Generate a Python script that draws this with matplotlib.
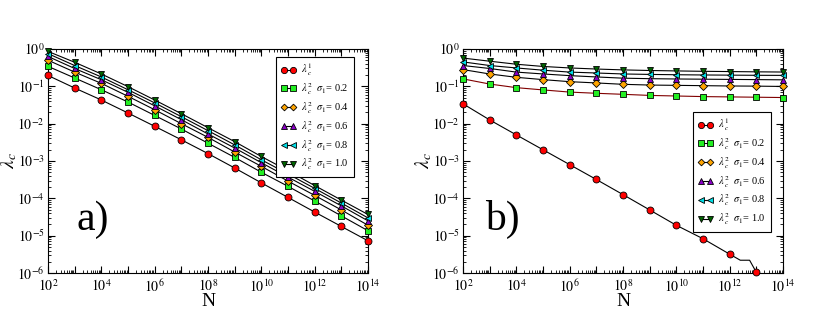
import numpy as np
import matplotlib
matplotlib.use("Agg")
import matplotlib.pyplot as plt
from matplotlib.ticker import LogLocator, FuncFormatter, NullFormatter
from matplotlib.lines import Line2D

plt.rcParams["font.family"] = ["Liberation Serif", "DejaVu Serif"]
plt.rcParams["mathtext.fontset"] = "stix"

# exponents of N for the markers
exps = np.arange(2, 15)
N = 10.0 ** exps

# panel a)
a_l1 = [0.195, 0.090, 0.043, 0.0193, 0.0085, 0.0037, 0.00158, 6.5e-4, 2.6e-4, 1.06e-4, 4.3e-5, 1.77e-5, 7.3e-6]
a_s02 = [0.342, 0.167, 0.081, 0.038, 0.0166, 0.0072, 0.0030, 0.00125, 5.0e-4, 2.1e-4, 8.5e-5, 3.4e-5, 1.36e-5]
a_s04 = [0.50, 0.24, 0.12, 0.054, 0.0236, 0.0100, 0.0043, 0.00174, 7.2e-4, 2.9e-4, 1.2e-4, 4.9e-5, 1.9e-5]
a_s06 = [0.63, 0.30, 0.15, 0.069, 0.030, 0.0128, 0.0053, 0.00223, 9.0e-4, 3.7e-4, 1.54e-4, 6.3e-5, 2.5e-5]
a_s08 = [0.75, 0.36, 0.178, 0.081, 0.036, 0.0154, 0.0065, 0.0027, 0.00108, 4.5e-4, 1.85e-4, 7.5e-5, 3.0e-5]
a_s10 = [0.86, 0.44, 0.214, 0.098, 0.043, 0.0185, 0.0078, 0.0033, 0.00132, 5.5e-4, 2.2e-4, 9.0e-5, 3.7e-5]

# panel b)
b_l1 = [0.034, 0.0126, 0.0050, 0.0020, 8.0e-4, 3.2e-4, 1.26e-4, 4.9e-5, 1.9e-5, 8.3e-6, 3.2e-6, 1.05e-6]
b_l1_line_x = [2, 3, 4, 5, 6, 7, 8, 9, 10, 11, 12, 12.4, 12.75, 13]
b_l1_line_y = [0.034, 0.0126, 0.0050, 0.0020, 8.0e-4, 3.2e-4, 1.26e-4, 4.9e-5, 1.9e-5, 8.3e-6, 3.2e-6, 2.2e-6, 2.2e-6, 1.05e-6]
b_s02 = [0.158, 0.115, 0.092, 0.080, 0.070, 0.065, 0.061, 0.057, 0.055, 0.053, 0.052, 0.051, 0.050]
b_s04 = [0.28, 0.214, 0.174, 0.151, 0.133, 0.123, 0.113, 0.108, 0.106, 0.104, 0.102, 0.101, 0.099]
b_s06 = [0.36, 0.30, 0.24, 0.214, 0.193, 0.178, 0.165, 0.160, 0.157, 0.155, 0.153, 0.151, 0.149]
b_s08 = [0.45, 0.36, 0.31, 0.27, 0.24, 0.227, 0.214, 0.208, 0.204, 0.201, 0.199, 0.197, 0.196]
b_s10 = [0.57, 0.47, 0.39, 0.34, 0.31, 0.29, 0.275, 0.265, 0.258, 0.252, 0.248, 0.244, 0.241]

labels = [r"$\lambda^{1}_{\ c}$",
          r"$\lambda^{2}_{\ c}\ \ \sigma_{1}$= 0.2",
          r"$\lambda^{2}_{\ c}\ \ \sigma_{1}$= 0.4",
          r"$\lambda^{2}_{\ c}\ \ \sigma_{1}$= 0.6",
          r"$\lambda^{2}_{\ c}\ \ \sigma_{1}$= 0.8",
          r"$\lambda^{2}_{\ c}\ \ \sigma_{1}$= 1.0"]
colors = ["#ff0000", "#22ee22", "#ffa500", "#8a00c8", "#00e0e8", "#006400"]
markers = ["o", "s", "D", "^", "<", "v"]
msizes = [5, 4.8, 3.8, 5, 5, 5]

fig = plt.figure(figsize=(8.3, 3.21), dpi=100)
ax_a = fig.add_axes([0.0578, 0.1495, 0.3855, 0.698])
ax_b = fig.add_axes([0.5578, 0.1495, 0.3855, 0.698])


def style_axis(ax):
    ax.set_xscale("log")
    ax.set_yscale("log")
    ax.set_xlim(1e2, 1e14)
    ax.set_ylim(1e-6, 1e0)
    ax.xaxis.set_major_locator(LogLocator(base=10, numticks=20))
    ax.xaxis.set_major_formatter(FuncFormatter(
        lambda v, p: r"$10^{%d}$" % round(np.log10(v)) if round(np.log10(v)) % 2 == 0 else ""))
    ax.xaxis.set_minor_locator(LogLocator(base=10, subs=np.arange(2, 10), numticks=100))
    ax.xaxis.set_minor_formatter(NullFormatter())
    ax.yaxis.set_major_locator(LogLocator(base=10, numticks=20))
    ax.yaxis.set_major_formatter(FuncFormatter(lambda v, p: r"$10^{%d}$" % round(np.log10(v))))
    ax.yaxis.set_minor_locator(LogLocator(base=10, subs=np.arange(2, 10), numticks=100))
    ax.yaxis.set_minor_formatter(NullFormatter())
    ax.tick_params(which="both", direction="in", top=True, right=True, labelsize=10)
    ax.tick_params(which="major", length=5, width=0.8, pad=2.5)
    ax.tick_params(axis="x", which="major", pad=4)
    ax.tick_params(which="minor", length=2.5, width=0.6)
    ax.set_xlabel("N", fontsize=14)
    ax.xaxis.set_label_coords(0.5, -0.09)
    ax.set_ylabel(r"$\lambda_c$", fontsize=14)
    ax.yaxis.set_label_coords(-0.09, 0.5)


def make_legend(ax, anchor):
    handles = [Line2D([0], [0], color="k", lw=0.8, marker=m, markersize=s * 0.9,
                      markerfacecolor=c, markeredgecolor="k", markeredgewidth=0.6)
               for c, m, s in zip(colors, markers, msizes)]
    leg = ax.legend(handles, labels, loc="upper right", bbox_to_anchor=anchor,
                    numpoints=2, fontsize=7.5, fancybox=False, edgecolor="k",
                    framealpha=1, handlelength=1.5, handletextpad=0.5,
                    labelspacing=0.28, borderpad=0.45, borderaxespad=0)
    leg.get_frame().set_linewidth(0.8)


# panel a
style_axis(ax_a)
for y, c, m, s in zip([a_l1, a_s02, a_s04, a_s06, a_s08, a_s10], colors, markers, msizes):
    ax_a.plot(N, y, color="k", lw=0.8, marker=m, markersize=s, markerfacecolor=c,
              markeredgecolor="k", markeredgewidth=0.6, clip_on=False, zorder=3)
make_legend(ax_a, (0.956, 0.964))
ax_a.text(0.09, 0.19, "a)", transform=ax_a.transAxes, fontsize=30)

# panel b
style_axis(ax_b)
ax_b.plot(10.0 ** np.array(b_l1_line_x), b_l1_line_y, color="k", lw=0.8, zorder=2)
ax_b.plot(N[:len(b_l1)], b_l1, ls="none", marker=markers[0], markersize=msizes[0],
          markerfacecolor=colors[0], markeredgecolor="k", markeredgewidth=0.6,
          clip_on=False, zorder=3)
line_cols = ["#800000", "k", "k", "k", "k"]
for y, c, m, s, lc in zip([b_s02, b_s04, b_s06, b_s08, b_s10], colors[1:], markers[1:], msizes[1:], line_cols):
    ax_b.plot(N, y, color=lc, lw=0.8, marker=m, markersize=s, markerfacecolor=c,
              markeredgecolor="k", markeredgewidth=0.6, clip_on=False, zorder=3)
make_legend(ax_b, (0.9625, 0.719))
ax_b.text(0.07, 0.19, "b)", transform=ax_b.transAxes, fontsize=30)

fig.savefig("out.png", dpi=100)
